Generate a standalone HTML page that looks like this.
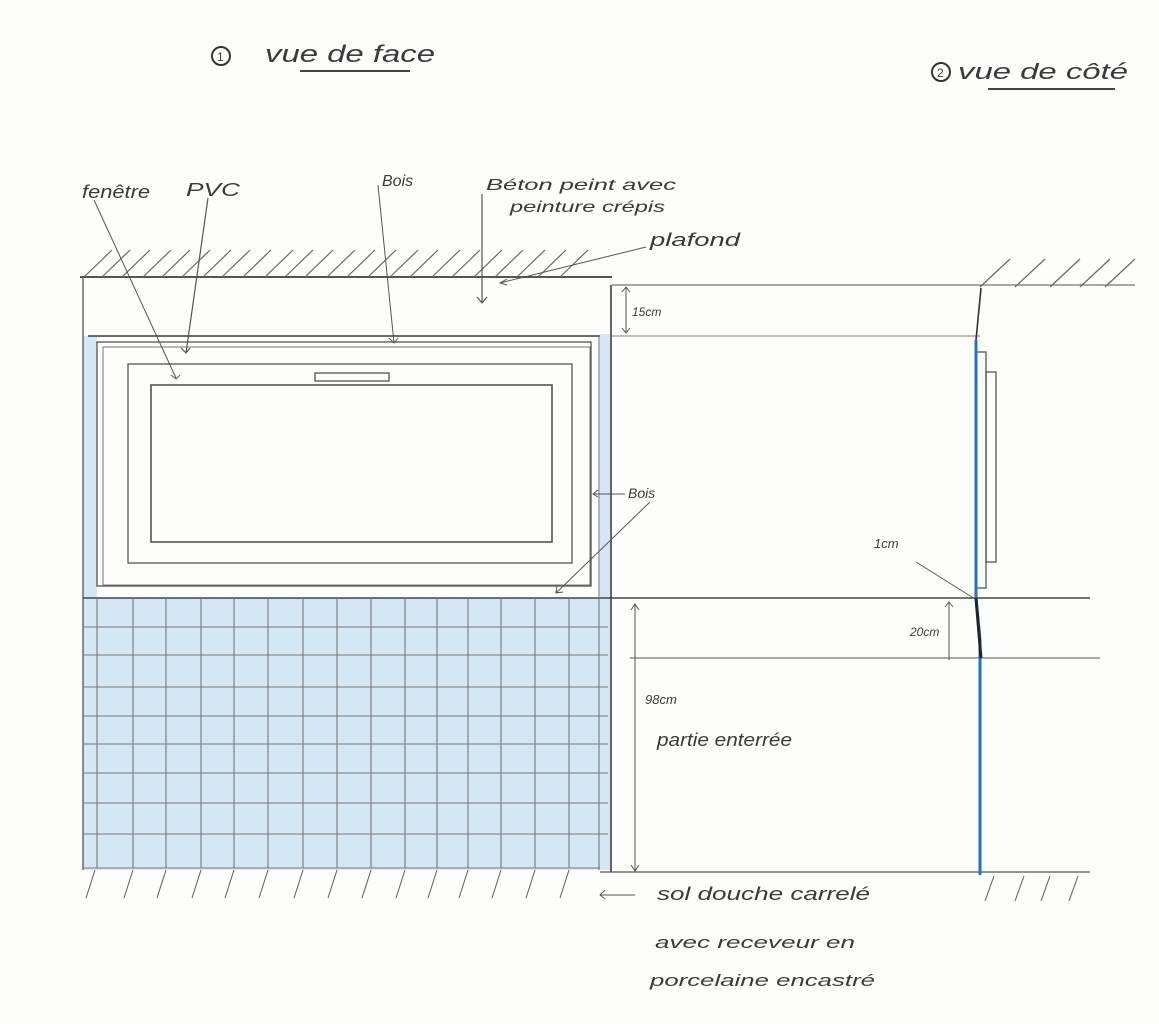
<!DOCTYPE html>
<html><head><meta charset="utf-8"><style>
html,body{margin:0;padding:0;background:#fdfdfb;}
svg{display:block}
text{font-family:"Liberation Sans",sans-serif;fill:#3a3a3a;font-style:italic}
</style></head><body>
<svg width="1159" height="1024" viewBox="0 0 1159 1024" xmlns="http://www.w3.org/2000/svg">
<rect width="1159" height="1024" fill="#fdfdfb"/>
<!-- titles -->
<circle cx="221" cy="56" r="9" fill="none" stroke="#333" stroke-width="2"/>
<text x="217" y="61" font-size="12" style="font-style:normal">1</text>
<text x="265" y="62" font-size="24" textLength="170" lengthAdjust="spacingAndGlyphs">vue de face</text>
<line x1="300" y1="71" x2="410" y2="71" stroke="#444" stroke-width="2"/>
<circle cx="941" cy="72" r="9" fill="none" stroke="#333" stroke-width="2"/>
<text x="937" y="77" font-size="12" style="font-style:normal">2</text>
<text x="958" y="79" font-size="22" textLength="170" lengthAdjust="spacingAndGlyphs">vue de côté</text>
<line x1="988" y1="89" x2="1115" y2="89" stroke="#444" stroke-width="2"/>

<!-- blue fills -->
<g fill="#d4e7f5">
<rect x="83" y="336" width="14" height="262"/>
<rect x="600" y="334" width="11" height="264"/>
<rect x="83" y="598" width="528" height="272"/>
</g>
<g stroke="#555" stroke-width="1.3" fill="none">
<line x1="80" y1="277" x2="612" y2="277" stroke-width="2"/>
<line x1="612" y1="285" x2="1135" y2="285" stroke-width="1"/>
<line x1="83" y1="277" x2="83" y2="870"/>
<line x1="611" y1="285" x2="611" y2="872" stroke-width="1.8"/>
<line x1="88" y1="336" x2="600" y2="336" stroke-width="1.8"/>
<line x1="612" y1="336" x2="980" y2="336" stroke-width="0.8"/>
<rect x="97" y="342" width="494" height="244"/>
<rect x="103" y="347" width="487" height="238" stroke-width="0.8"/>
<rect x="128" y="364" width="444" height="199"/>
<rect x="151" y="385" width="401" height="157" stroke-width="1.6"/>
<rect x="315" y="373" width="74" height="8"/>
<g stroke="#777" stroke-width="1.1">
<line x1="83" y1="598" x2="1090" y2="598" stroke="#444" stroke-width="1.6"/>
<line x1="83" y1="627" x2="608" y2="627"/><line x1="83" y1="655" x2="608" y2="655"/>
<line x1="83" y1="687" x2="608" y2="687"/><line x1="83" y1="716" x2="608" y2="716"/>
<line x1="83" y1="744" x2="608" y2="744"/><line x1="83" y1="773" x2="608" y2="773"/>
<line x1="83" y1="803" x2="608" y2="803"/><line x1="83" y1="834" x2="608" y2="834"/>
<line x1="83" y1="868" x2="600" y2="868"/>
<line x1="97" y1="598" x2="97" y2="868"/><line x1="133" y1="598" x2="133" y2="868"/>
<line x1="166" y1="598" x2="166" y2="868"/><line x1="201" y1="598" x2="201" y2="868"/>
<line x1="234" y1="598" x2="234" y2="868"/><line x1="268" y1="598" x2="268" y2="868"/>
<line x1="303" y1="598" x2="303" y2="868"/><line x1="337" y1="598" x2="337" y2="868"/>
<line x1="371" y1="598" x2="371" y2="868"/><line x1="405" y1="598" x2="405" y2="868"/>
<line x1="437" y1="598" x2="437" y2="868"/><line x1="468" y1="598" x2="468" y2="868"/>
<line x1="501" y1="598" x2="501" y2="868"/><line x1="535" y1="598" x2="535" y2="868"/>
<line x1="569" y1="598" x2="569" y2="868"/><line x1="599" y1="336" x2="599" y2="870"/>
</g>
<line x1="630" y1="658" x2="1100" y2="658" stroke-width="0.9"/>
<line x1="600" y1="872" x2="1090" y2="872" stroke-width="1.2"/>
<path d="M84 277l28-27M102 277l28-27M122 277l28-27M143 277l28-27M162 277l28-27M182 277l28-27M203 277l28-27M222 277l28-27M243 277l28-27M265 277l28-27M285 277l28-27M305 277l28-27M327 277l28-27M347 277l28-27M368 277l28-27M390 277l28-27M410 277l28-27M432 277l28-27M452 277l28-27M474 277l28-27M495 277l28-27M517 277l28-27M538 277l28-27M560 277l28-27M980 287l30-28M1015 287l30-28M1050 287l30-28M1080 287l30-28M1105 287l30-28" stroke-width="1.2" stroke="#666"/>
<path d="M95 870l-9 28M133 870l-9 28M166 870l-9 28M201 870l-9 28M234 870l-9 28M268 870l-9 28M303 870l-9 28M337 870l-9 28M371 870l-9 28M405 870l-9 28M437 870l-9 28M468 870l-9 28M501 870l-9 28M535 870l-9 28M569 870l-9 28M994 876l-9 25M1024 876l-9 25M1050 876l-9 25M1078 876l-9 25" stroke-width="1.1" stroke="#666"/>
<path d="M94 200L176 378M171 375l5 4 4-4" stroke-width="1"/>
<path d="M208 198L186 353M181 348l5 5 4-5" stroke-width="1.2"/>
<path d="M378 185L394 343M389 338l5 5 4-5" stroke-width="1"/>
<path d="M482 194L482 303M477 297l5 6 5-6" stroke-width="1.2"/>
<path d="M646 247L500 283M507 279l-7 4 7 2" stroke-width="1"/>
<path d="M625 494L593 494M598 490l-5 4 5 3" stroke-width="1"/>
<path d="M650 502L556 593M557 586l-1 7 7-1" stroke-width="1"/>
<path d="M626 287L626 333M622 292l4-5 4 5M622 328l4 5 4-5" stroke-width="1"/>
<path d="M635 605L635 870M631 610l4-6 4 6M631 865l4 6 4-6" stroke-width="1"/>
<path d="M600 895L635 895M605 890l-5 5 5 4" stroke-width="1"/>
<path d="M949 602L949 660M945 607l4-5 4 5" stroke-width="1"/>
<path d="M916 562L975 599" stroke-width="1"/>
<path d="M981 288L976 340" stroke="#333" stroke-width="1.6"/>
<rect x="976" y="352" width="10" height="236"/>
<rect x="986" y="372" width="10" height="190"/>
</g>
<path d="M976 340L976 598L980 640L980 875" stroke="#1e74c8" stroke-width="3" fill="none"/>
<path d="M976 598L981 658" stroke="#223" stroke-width="3" fill="none"/>
<!-- labels -->
<text x="82" y="198" font-size="18" textLength="68" lengthAdjust="spacingAndGlyphs">fenêtre</text>
<text x="186" y="196" font-size="18" textLength="54" lengthAdjust="spacingAndGlyphs">PVC</text>
<text x="382" y="186" font-size="16">Bois</text>
<text x="486" y="190" font-size="16" textLength="190" lengthAdjust="spacingAndGlyphs">Béton peint avec</text>
<text x="510" y="212" font-size="16" textLength="155" lengthAdjust="spacingAndGlyphs">peinture crépis</text>
<text x="650" y="246" font-size="18" textLength="90" lengthAdjust="spacingAndGlyphs">plafond</text>
<text x="632" y="316" font-size="12">15cm</text>
<text x="628" y="498" font-size="14">Bois</text>
<text x="874" y="548" font-size="13">1cm</text>
<text x="910" y="636" font-size="12">20cm</text>
<text x="645" y="704" font-size="13">98cm</text>
<text x="657" y="746" font-size="18" textLength="135" lengthAdjust="spacingAndGlyphs">partie enterrée</text>
<text x="657" y="900" font-size="18" textLength="213" lengthAdjust="spacingAndGlyphs">sol douche carrelé</text>
<text x="655" y="948" font-size="17" textLength="200" lengthAdjust="spacingAndGlyphs">avec receveur en</text>
<text x="650" y="986" font-size="17" textLength="225" lengthAdjust="spacingAndGlyphs">porcelaine encastré</text>
</svg>
</body></html>
